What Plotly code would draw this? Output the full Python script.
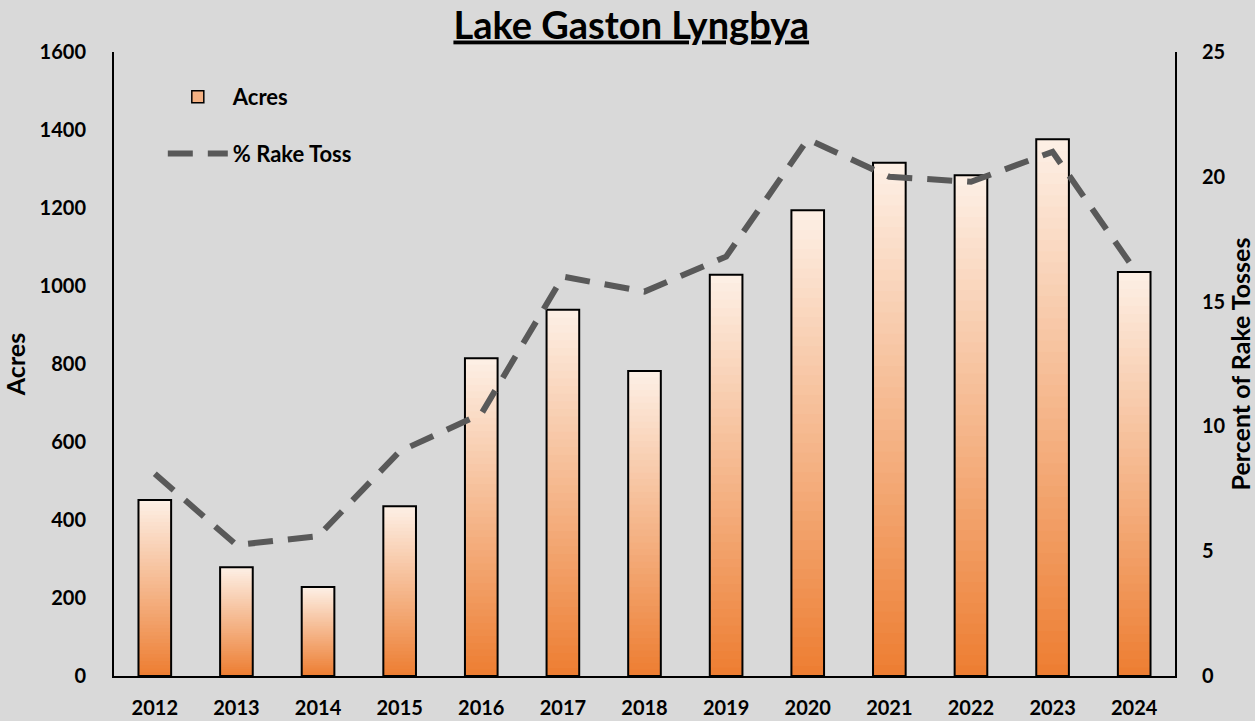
import plotly.graph_objects as go

years = ["2012", "2013", "2014", "2015", "2016", "2017", "2018",
         "2019", "2020", "2021", "2022", "2023", "2024"]
acres = [451, 279, 228, 435, 815, 939, 782, 1029, 1194, 1316, 1284, 1376, 1036]
rake_toss_pct = [8.1, 5.25, 5.6, 9.0, 10.5, 16.0, 15.4, 16.8, 21.5, 20.0, 19.8, 21.0, 16.3]

acres_ticks = [0, 200, 400, 600, 800, 1000, 1200, 1400, 1600]
pct_ticks = [0, 5, 10, 15, 20, 25]

FONT = "Lato, 'Open Sans', sans-serif"
BG = "#D9D9D9"
TOP_RGB = (253, 240, 230)
BOT_RGB = (237, 125, 49)
N_SEG = 48

fig = go.Figure()

# gradient bars: each bar split into N_SEG slices, bottom orange to top light
for k in range(N_SEG):
    t = (k + 0.5) / N_SEG
    c = tuple(round(BOT_RGB[i] + (TOP_RGB[i] - BOT_RGB[i]) * t) for i in range(3))
    over = 1.0 if k == N_SEG - 1 else 1.8
    fig.add_trace(go.Bar(
        x=years,
        y=[v / N_SEG * over for v in acres],
        base=[v * k / N_SEG for v in acres],
        marker=dict(color="rgb(%d,%d,%d)" % c, line=dict(width=0)),
        showlegend=False, hoverinfo="skip",
    ))

# outline of each bar
fig.add_trace(go.Bar(
    x=years, y=acres, name="Acres",
    marker=dict(color="rgba(0,0,0,0)", line=dict(color="black", width=2)),
    showlegend=False,
))

# legend entry for bars
fig.add_trace(go.Bar(
    x=[years[0]], y=[None], name="Acres",
    marker=dict(color="#F4B183", line=dict(color="black", width=1.5)),
    legendgroup="a",
))

fig.add_trace(go.Scatter(
    x=years, y=rake_toss_pct, name="% Rake Toss", yaxis="y2",
    mode="lines", line=dict(color="#595959", width=6, dash="25px,15px"),
    legendgroup="b",
))

tickfont = dict(family=FONT, size=20, color="black", weight="bold")
titlefont = dict(family=FONT, size=25, color="black", weight="bold")

fig.update_layout(
    width=1255, height=721,
    paper_bgcolor=BG, plot_bgcolor=BG,
    margin=dict(l=114, r=80, t=52, b=45),
    barmode="overlay", bargap=0.6,
    title=dict(text="Lake Gaston Lyngbya", x=0.503, xanchor="center",
               y=0.965, yanchor="middle",
               font=dict(family=FONT, size=38, color="black", weight="bold",
                         lineposition="under")),
    xaxis=dict(showgrid=False, showline=True, linecolor="black", linewidth=2,
               ticks="", tickfont=tickfont, zeroline=False, ticklabelstandoff=13,
               automargin=False),
    yaxis=dict(range=[0, 1600], tickvals=acres_ticks, showgrid=False,
               showline=True, linecolor="black", linewidth=2, ticks="",
               tickfont=tickfont, zeroline=False, ticklabelstandoff=22,
               automargin=False,
               title=dict(text="Acres", standoff=10, font=titlefont)),
    yaxis2=dict(range=[0, 25], tickvals=pct_ticks, overlaying="y", side="right",
                showgrid=False, showline=True, linecolor="black", linewidth=2,
                ticks="", tickfont=tickfont, zeroline=False, ticklabelstandoff=21,
                automargin=False,
                title=dict(text="Percent of Rake Tosses", standoff=14, font=titlefont)),
    legend=dict(x=0.046, y=0.9615, xanchor="left", yanchor="top",
                bgcolor="rgba(0,0,0,0)", tracegroupgap=25, itemwidth=60,
                font=dict(family=FONT, size=22, color="black", weight="bold")),
    showlegend=True,
)

fig.write_html("out.html", config={"displayModeBar": False},
               post_script="document.body.style.margin='0';")
